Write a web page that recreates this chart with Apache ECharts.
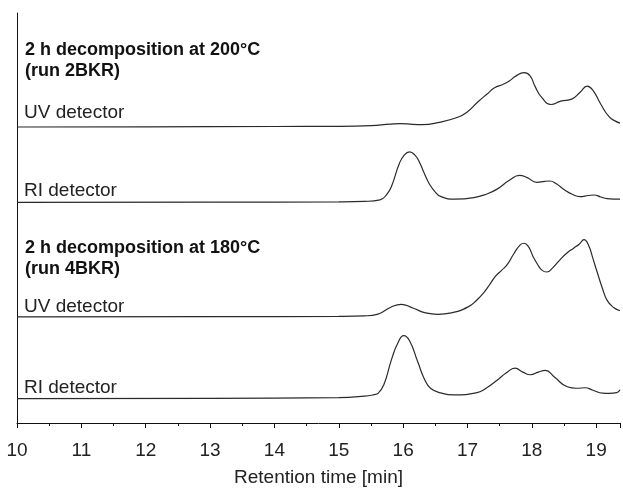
<!DOCTYPE html>
<html>
<head>
<meta charset="utf-8">
<script src="https://cdn.jsdelivr.net/npm/echarts@6/dist/echarts.min.js"></script>
<style>html,body{margin:0;padding:0;background:#fff}#c{width:623px;height:492px}</style>
</head>
<body>
<div id="c"></div>
<script>
// Retention times (min) and detector signals (arbitrary units, stacked offsets as drawn)
var uv200T = [10,12,14,15,15.5,15.8,15.96,16.15,16.3,16.54,16.85,17.0,17.16,17.3,17.42,17.55,17.65,17.75,17.88,17.97,18.05,18.15,18.3,18.45,18.62,18.75,18.86,18.95,19.07,19.2,19.3,19.37];
var uv200V = [302.5,302.7,303,303.2,304,305.5,306,305.2,305,307,312.5,318,328,336,342.5,346,349.5,354.5,358,355,344,333,325.5,329,331,338,344.3,340,326,313,308.5,306.5];

var ri200T = [10,13,15,15.4,15.64,15.75,15.82,15.94,16.02,16.1,16.18,16.25,16.33,16.41,16.5,16.59,16.8,17.1,17.3,17.46,17.65,17.81,17.92,18.08,18.2,18.28,18.38,18.5,18.62,18.75,18.88,18.97,19.07,19.17,19.37];
var ri200V = [225.5,225.7,226,226.5,228,234,242,265,274,277,274,267,255,244,236,231.3,228.7,230.3,234,239,248,253,251,246,247,247.3,244.5,238.7,234,231.3,232.5,233,231,229.3,228.7];

var uv180T = [10,13,15,15.4,15.61,15.8,15.97,16.15,16.35,16.54,16.75,17.01,17.15,17.26,17.35,17.44,17.53,17.62,17.72,17.82,17.88,17.95,18.02,18.09,18.16,18.23,18.33,18.44,18.55,18.65,18.74,18.81,18.88,18.95,19.01,19.1,19.17,19.27,19.37];
var uv180V = [108.5,108.7,109,109.5,111.3,118,121.3,117.5,112.5,111,112.5,118.7,126,133.7,142,150.3,156,162,173,182,183.7,180,170,162,156,154.3,159,167,174,178.7,183,187.3,182,168,155.3,137,125.3,118,114.7];

var ri180T = [10,13,15,15.4,15.55,15.61,15.7,15.82,15.92,16.01,16.1,16.23,16.33,16.43,16.6,16.79,17.15,17.3,17.46,17.6,17.74,17.86,17.98,18.1,18.21,18.35,18.55,18.7,18.83,18.95,19.1,19.2,19.32,19.37];
var ri180V = [25,25.2,26,27.5,29,30.3,39,65,82,89.3,84,62,45,35.3,30.5,28.7,31,36,43.7,51,56,52,49.3,52,53.7,47,37,35.5,36,33.5,30.5,30.3,31,34];

var xTickLabels = ['10','11','12','13','14','15','16','17','18','19'];
var xAxisTitle = 'Retention time [min]';
var boldLabels = ['2 h decomposition at 200°C', '(run 2BKR)', '2 h decomposition at 180°C', '(run 4BKR)'];
var plainLabels = ['UV detector', 'RI detector', 'UV detector', 'RI detector'];

function pairs(t, v) { return t.map(function (x, i) { return [x, v[i]]; }); }

var FONT = '"Liberation Sans", Arial, sans-serif';
var boldY = [50, 71, 248, 269];
var plainY = [113, 191, 307, 388];

var graphics = [];
boldLabels.forEach(function (s, i) {
  graphics.push({ type: 'text', x: 25, y: boldY[i], style: { text: s, fill: '#111', font: 'bold 18px ' + FONT, verticalAlign: 'middle', textVerticalAlign: 'middle' } });
});
plainLabels.forEach(function (s, i) {
  graphics.push({ type: 'text', x: 24, y: plainY[i], style: { text: s, fill: '#222', font: '19px ' + FONT, verticalAlign: 'middle', textVerticalAlign: 'middle' } });
});

var lineStyle = { color: '#2a2a2a', width: 1.2 };
function mk(t, v) {
  return { type: 'line', data: pairs(t, v), showSymbol: false, symbol: 'none', smooth: 0.5, lineStyle: lineStyle, silent: true, animation: false };
}

var chart = echarts.init(document.getElementById('c'), null, { renderer: 'canvas' });
chart.setOption({
  animation: false,
  backgroundColor: '#fff',
  grid: { left: 17, right: 0, top: 13, bottom: 60, containLabel: false },
  xAxis: {
    type: 'value', min: 10, max: 19.37, interval: 1,
    name: xAxisTitle, nameLocation: 'middle', nameGap: 45,
    nameTextStyle: { fontFamily: FONT, fontSize: 19, color: '#222' },
    axisLine: { show: true, lineStyle: { color: '#111', width: 1 } },
    axisTick: { show: true, inside: false, length: 5, lineStyle: { color: '#111' } },
    minorTick: { show: true, splitNumber: 2, length: 3, lineStyle: { color: '#111' } },
    splitLine: { show: false },
    axisLabel: {
      margin: 18, fontFamily: FONT, fontSize: 19, color: '#222',
      formatter: function (v) { var i = Math.round(v) - 10; return (Math.abs(v - Math.round(v)) < 1e-6 && xTickLabels[i]) ? xTickLabels[i] : ''; }
    }
  },
  yAxis: {
    type: 'value', min: 0, max: 419,
    axisLine: { show: true, lineStyle: { color: '#111', width: 1 } },
    axisTick: { show: false }, axisLabel: { show: false }, splitLine: { show: false }
  },
  series: [mk(uv200T, uv200V), mk(ri200T, ri200V), mk(uv180T, uv180V), mk(ri180T, ri180V)],
  graphic: graphics
});
</script>
</body>
</html>
